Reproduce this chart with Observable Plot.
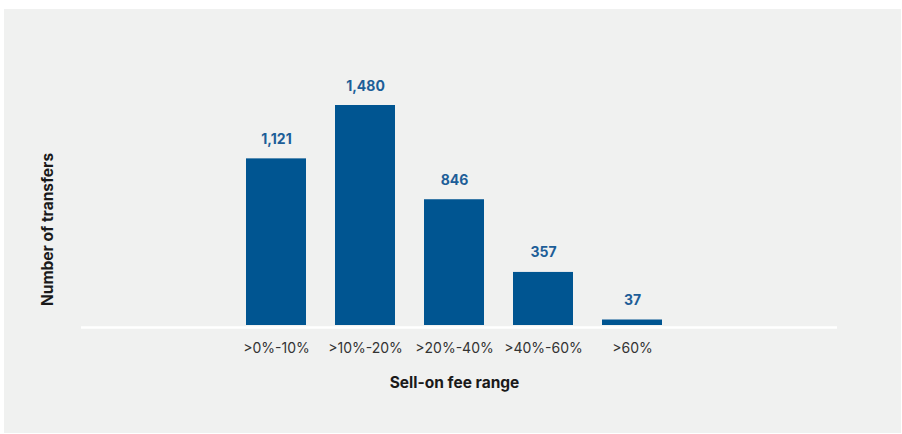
<!DOCTYPE html>
<html>
<head>
<meta charset="utf-8">
<script src="https://cdn.jsdelivr.net/npm/d3@7"></script>
<script src="https://cdn.jsdelivr.net/npm/@observablehq/plot@0.6"></script>
<style>
  html, body { margin: 0; padding: 0; background: #ffffff; }
  #wrap { position: relative; width: 902px; height: 434px; overflow: hidden; }
  #panel { position: absolute; left: 4px; top: 9px; width: 897px; height: 424px; background: #f0f1f0; }
  #chart { position: absolute; left: 0; top: 0; }
</style>
</head>
<body>
<div id="wrap"><div id="panel"></div><div id="chart"></div></div>
<script>
const categories = [">0%-10%", ">10%-20%", ">20%-40%", ">40%-60%", ">60%"];
const transfers = [1121, 1480, 846, 357, 37];
const xTitle = "Sell-on fee range";
const yTitle = "Number of transfers";

const data = categories.map((c, i) => ({range: c, value: transfers[i]}));
const fmt = d3.format(",");
const FONT = "Inter, 'DejaVu Sans', sans-serif";

const chart = Plot.plot({
  width: 902,
  height: 434,
  marginLeft: 81,
  marginRight: 65,
  marginTop: 127,
  marginBottom: 107,
  style: {background: "transparent", fontFamily: FONT, overflow: "visible"},
  x: {domain: categories, range: [231.1, 677.4], paddingInner: 0.33, paddingOuter: 0.165, label: null},
  y: {domain: [0, 1480], range: [325, 105], axis: null},
  marks: [
    Plot.barY(data, {x: "range", y: "value", fill: "#005591"}),
    Plot.ruleY([0], {stroke: "#ffffff", strokeWidth: 2.5, dy: 2}),
    Plot.text(data, {x: "range", y: "value", text: d => fmt(d.value), dy: -15, lineAnchor: "bottom",
      fill: "#1d5e98", fontWeight: 700, fontSize: 14}),
    Plot.axisX({tickSize: 0, tickPadding: 16, fontSize: 14, color: "#333333", label: null}),
    Plot.text([xTitle], {x: () => categories[2], frameAnchor: "bottom", dy: 56, lineAnchor: "middle",
      fontWeight: 700, fontSize: 15.5, fill: "#1a1a1a"}),
    Plot.text([yTitle], {frameAnchor: "left", dx: -33, dy: 2, rotate: -90, lineAnchor: "middle",
      textAnchor: "middle", fontWeight: 700, fontSize: 15.5, fill: "#1a1a1a"})
  ]
});
document.getElementById("chart").appendChild(chart);
</script>
</body>
</html>
